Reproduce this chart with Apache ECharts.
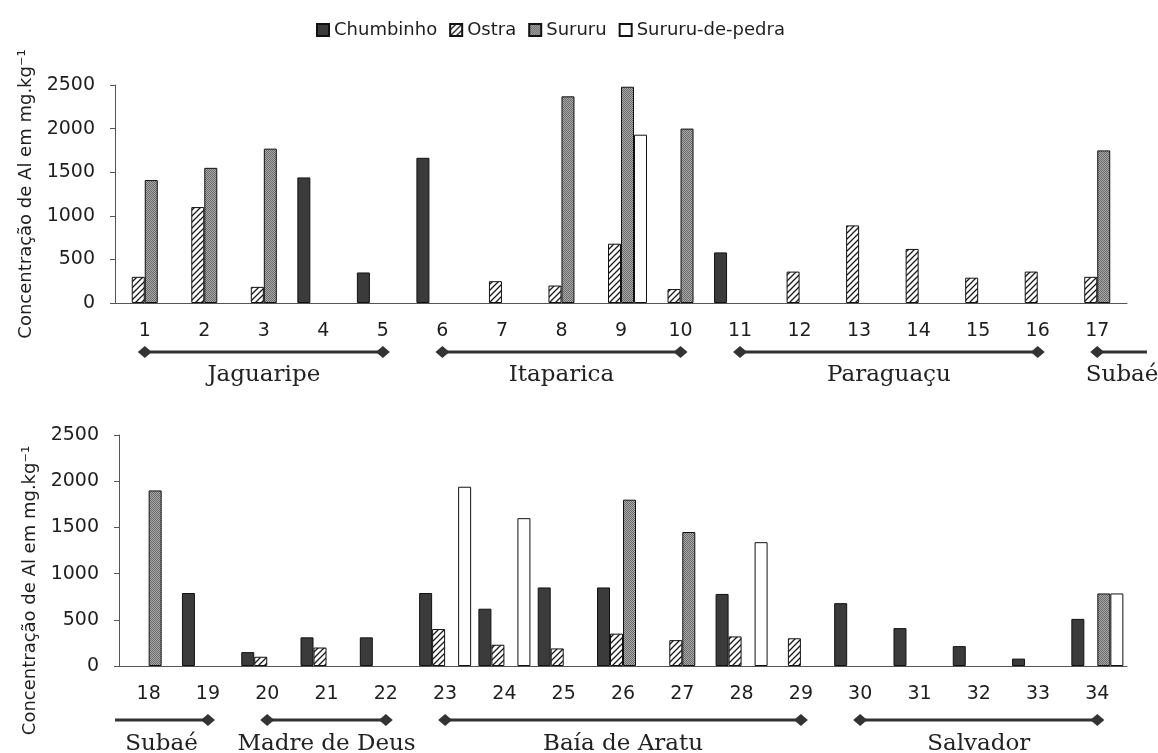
<!DOCTYPE html>
<html>
<head>
<meta charset="utf-8">
<script src="https://cdn.jsdelivr.net/npm/echarts@6/dist/echarts.min.js"></script>
<style>html,body{margin:0;padding:0;background:#fff}#main{width:1158px;height:753px}</style>
</head>
<body>
<div id="main"></div>
<script>
// ---- data ----
const seriesNames = ['Chumbinho', 'Ostra', 'Sururu', 'Sururu-de-pedra'];
const sitesTop = ['1','2','3','4','5','6','7','8','9','10','11','12','13','14','15','16','17'];
const sitesBottom = ['18','19','20','21','22','23','24','25','26','27','28','29','30','31','32','33','34'];
const yTicks = [0, 500, 1000, 1500, 2000, 2500];

const chumbinhoTop = [null, null, null, 1440, 350, 1665, null, null, null, null, 580, null, null, null, null, null, null];
const ostraTop     = [300, 1100, 185, null, null, null, 250, 200, 680, 160, null, 360, 890, 620, 290, 360, 300];
const sururuTop    = [1410, 1550, 1770, null, null, null, null, 2370, 2480, 2000, null, null, null, null, null, null, 1750];
const pedraTop     = [null, null, null, null, null, null, null, null, 1930, null, null, null, null, null, null, null, null];

const chumbinhoBottom = [null, 790, 150, 310, 310, 790, 620, 850, 850, null, 780, null, 680, 410, 215, 80, 510];
const ostraBottom     = [null, null, 100, 200, null, 400, 230, 190, 350, 280, 320, 300, null, null, null, null, null];
const sururuBottom    = [1900, null, null, null, null, null, null, null, 1800, 1450, null, null, null, null, null, null, 785];
const pedraBottom     = [null, null, null, null, null, 1940, 1600, null, null, null, 1340, null, null, null, null, null, 785];

// regions: site ranges (null = continues past the panel edge)
const regionsTop = [
  {name: 'Jaguaripe', from: '1', to: '5'},
  {name: 'Itaparica', from: '6', to: '10'},
  {name: 'Paraguaçu', from: '11', to: '16'},
  {name: 'Subaé', from: '17', to: null}
];
const regionsBottom = [
  {name: 'Subaé', from: null, to: '19'},
  {name: 'Madre de Deus', from: '20', to: '22'},
  {name: 'Baía de Aratu', from: '23', to: '29'},
  {name: 'Salvador', from: '30', to: '34'}
];

// ---- styles ----
function hatchPattern() {
  const c = document.createElement('canvas');
  c.width = 6; c.height = 6;
  const g = c.getContext('2d');
  g.fillStyle = '#ffffff'; g.fillRect(0, 0, 6, 6);
  g.strokeStyle = '#1a1a1a'; g.lineWidth = 1.3;
  g.beginPath();
  g.moveTo(-1, 7); g.lineTo(7, -1);
  g.moveTo(-4, 4); g.lineTo(4, -4);
  g.moveTo(2, 10); g.lineTo(10, 2);
  g.stroke();
  return c;
}
function dotPattern() {
  const c = document.createElement('canvas');
  c.width = 2; c.height = 2;
  const g = c.getContext('2d');
  g.fillStyle = '#a9a9a9'; g.fillRect(0, 0, 2, 2);
  g.fillStyle = '#6a6a6a'; g.fillRect(0, 0, 1, 1); g.fillRect(1, 1, 1, 1);
  return c;
}
const fills = [
  '#3b3b3b',
  {image: hatchPattern(), repeat: 'repeat'},
  {image: dotPattern(), repeat: 'repeat'},
  '#ffffff'
];
const FONT = 'DejaVu Sans';
const TXT = '#1e1e1e';

function makeSeries(gi, arrs) {
  return arrs.map((d, i) => ({
    name: seriesNames[i],
    type: 'bar',
    xAxisIndex: gi, yAxisIndex: gi,
    data: d.map(v => v == null ? '-' : v),
    barWidth: 13,
    barGap: '0%',
    itemStyle: {color: fills[i], borderColor: '#111', borderWidth: 1}
  }));
}
function xAxisCfg(gi, data) {
  return {
    type: 'category', gridIndex: gi, data: data,
    axisLine: {lineStyle: {color: '#555', width: 1}},
    axisTick: {length: 5, lineStyle: {color: '#555'}},
    axisLabel: {margin: 19, fontFamily: FONT, fontSize: 19, color: TXT}
  };
}
function yAxisCfg(gi, gap, pad) {
  return {
    type: 'value', gridIndex: gi,
    min: yTicks[0], max: yTicks[yTicks.length - 1], interval: yTicks[1] - yTicks[0],
    name: 'Concentração de Al em mg.kg⁻¹',
    nameLocation: 'middle', nameGap: gap,
    nameTextStyle: {fontFamily: FONT, fontSize: 18, color: TXT, padding: pad},
    axisLine: {show: true, lineStyle: {color: '#555', width: 1}},
    axisTick: {show: true, length: 5, lineStyle: {color: '#555'}},
    splitLine: {show: false},
    axisLabel: {margin: 20, fontFamily: FONT, fontSize: 19, color: TXT, formatter: v => String(v)}
  };
}

const chart = echarts.init(document.getElementById('main'));
chart.setOption({
  animation: false,
  backgroundColor: '#ffffff',
  legend: {
    data: seriesNames, top: 16, left: 311, icon: 'rect',
    itemWidth: 12, itemHeight: 12, itemGap: 12,
    textStyle: {fontFamily: FONT, fontSize: 18, color: TXT}
  },
  grid: [
    {left: 115, right: 31, top: 85, height: 218},
    {left: 119, right: 31, top: 435, height: 231}
  ],
  xAxis: [xAxisCfg(0, sitesTop), xAxisCfg(1, sitesBottom)],
  yAxis: [yAxisCfg(0, 76, [0, 0, 0, 0]), yAxisCfg(1, 79, [0, 80, 0, 0])],
  series: makeSeries(0, [chumbinhoTop, ostraTop, sururuTop, pedraTop])
    .concat(makeSeries(1, [chumbinhoBottom, ostraBottom, sururuBottom, pedraBottom]))
});

// region brackets below each axis, positioned through the category axes
function diamond(x, y) {
  return {type: 'polygon', shape: {points: [[x - 7, y], [x, y - 6], [x + 7, y], [x, y + 6]]},
          style: {fill: '#333'}, z: 10};
}
function regionGraphics(gi, regions, lineOff, textOff) {
  const out = [];
  const grid = chart.getModel().getComponent('grid', gi).coordinateSystem.getRect();
  const yAxisY = grid.y + grid.height;
  const ly = yAxisY + lineOff;
  regions.forEach(r => {
    const x1 = r.from != null ? chart.convertToPixel({xAxisIndex: gi}, r.from) : grid.x - 4;
    const x2 = r.to != null ? chart.convertToPixel({xAxisIndex: gi}, r.to) : grid.x + grid.width + 20;
    out.push({type: 'line', shape: {x1: x1, y1: ly, x2: x2, y2: ly},
              style: {stroke: '#333', lineWidth: 3}, z: 9});
    if (r.from != null) out.push(diamond(x1, ly));
    if (r.to != null) out.push(diamond(x2, ly));
    out.push({type: 'text', x: (x1 + x2) / 2, y: yAxisY + textOff,
              style: {text: r.name, fontFamily: 'DejaVu Serif', fontSize: 23, fill: '#222',
                      align: 'center', verticalAlign: 'middle'}, z: 10});
  });
  return out;
}
chart.setOption({
  graphic: regionGraphics(0, regionsTop, 49, 72).concat(regionGraphics(1, regionsBottom, 54, 78))
});
</script>
</body>
</html>
